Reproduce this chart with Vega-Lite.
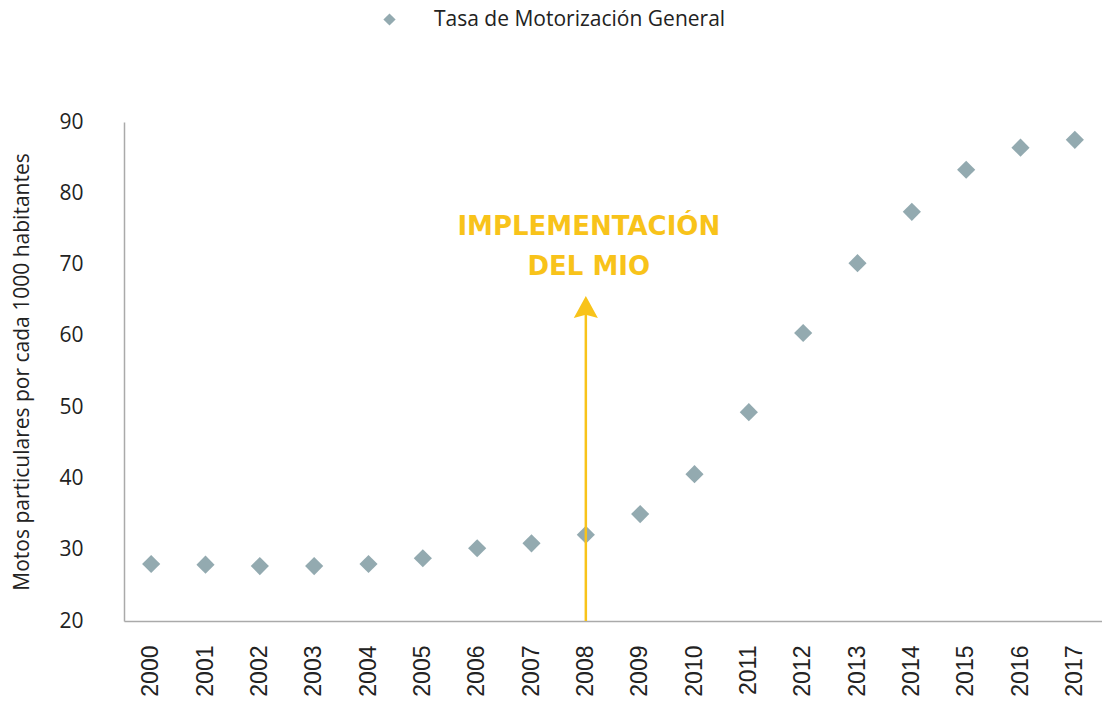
{
  "$schema": "https://vega.github.io/schema/vega-lite/v6.json",
  "autosize": {"type": "none"},
  "width": 978,
  "height": 499,
  "padding": {"left": 124, "top": 122, "right": 0, "bottom": 83},
  "background": "white",
  "config": {
    "view": {"stroke": null},
    "axis": {"grid": false}
  },
  "layer": [
    {
      "data": {"values": [
        {"year": "2000", "value": 28.0, "serie": "Tasa de Motorización General"},
        {"year": "2001", "value": 27.9, "serie": "Tasa de Motorización General"},
        {"year": "2002", "value": 27.7, "serie": "Tasa de Motorización General"},
        {"year": "2003", "value": 27.7, "serie": "Tasa de Motorización General"},
        {"year": "2004", "value": 28.0, "serie": "Tasa de Motorización General"},
        {"year": "2005", "value": 28.8, "serie": "Tasa de Motorización General"},
        {"year": "2006", "value": 30.2, "serie": "Tasa de Motorización General"},
        {"year": "2007", "value": 30.9, "serie": "Tasa de Motorización General"},
        {"year": "2008", "value": 32.1, "serie": "Tasa de Motorización General"},
        {"year": "2009", "value": 35.0, "serie": "Tasa de Motorización General"},
        {"year": "2010", "value": 40.6, "serie": "Tasa de Motorización General"},
        {"year": "2011", "value": 49.3, "serie": "Tasa de Motorización General"},
        {"year": "2012", "value": 60.4, "serie": "Tasa de Motorización General"},
        {"year": "2013", "value": 70.2, "serie": "Tasa de Motorización General"},
        {"year": "2014", "value": 77.4, "serie": "Tasa de Motorización General"},
        {"year": "2015", "value": 83.3, "serie": "Tasa de Motorización General"},
        {"year": "2016", "value": 86.4, "serie": "Tasa de Motorización General"},
        {"year": "2017", "value": 87.5, "serie": "Tasa de Motorización General"}
      ]},
      "mark": {"type": "point", "shape": "diamond", "filled": true, "size": 330, "opacity": 1},
      "encoding": {
        "x": {
          "field": "year", "type": "ordinal",
          "scale": {"type": "band", "paddingInner": 0, "paddingOuter": 0},
          "axis": {
            "title": null, "labelAngle": -90, "labelFont": "Liberation Sans", "labelFontSize": 23,
            "labelColor": "#222", "labelPadding": 24, "ticks": false, "domainColor": "#aaaaaa",
            "domainWidth": 1.5, "labelAlign": "right", "labelBaseline": "middle"
          }
        },
        "y": {
          "field": "value", "type": "quantitative",
          "scale": {"domain": [20, 90], "nice": false, "zero": false},
          "axis": {
            "title": "Motos particulares por cada 1000 habitantes", "titleFont": "Open Sans", "titleFontWeight": "normal",
            "titleFontSize": 21, "titleColor": "#222", "titlePadding": 26,
            "values": [20, 30, 40, 50, 60, 70, 80, 90], "labelFont": "Open Sans", "labelFontSize": 21,
            "labelColor": "#222", "labelPadding": 41, "ticks": false, "domainColor": "#aaaaaa", "domainWidth": 1.5
          }
        },
        "color": {
          "field": "serie", "type": "nominal",
          "scale": {"range": ["#93aab0"]},
          "legend": {
            "title": null, "orient": "none", "legendX": 255, "legendY": -113,
            "symbolType": "diamond", "symbolSize": 150, "symbolOpacity": 1, "labelLimit": 600,
            "labelFont": "Open Sans", "labelFontSize": 21, "labelColor": "#222", "labelOffset": 34
          }
        }
      }
    },
    {
      "data": {"values": [{"year": "2008", "y1": 20, "y2": 63.5}]},
      "mark": {"type": "rule", "color": "#f8c31a", "strokeWidth": 2.5},
      "encoding": {
        "x": {"field": "year", "type": "ordinal"},
        "y": {"field": "y1", "type": "quantitative"},
        "y2": {"field": "y2"}
      }
    },
    {
      "data": {"values": [{"year": "2008", "y": 64.05}]},
      "mark": {"type": "point", "shape": "M0,-1L1.1,1L0,0.7L-1.1,1Z", "filled": true, "color": "#f8c31a", "size": 480, "opacity": 1},
      "encoding": {
        "x": {"field": "year", "type": "ordinal"},
        "y": {"field": "y", "type": "quantitative"}
      }
    },
    {
      "data": {"values": [
        {"year": "2008", "y": 75.3, "label": "IMPLEMENTACIÓN"},
        {"year": "2008", "y": 69.7, "label": "DEL MIO"}
      ]},
      "mark": {"type": "text", "font": "DejaVu Sans", "fontWeight": "bold", "fontSize": 26, "color": "#f8c31a", "align": "center", "baseline": "middle", "dx": 3},
      "encoding": {
        "x": {"field": "year", "type": "ordinal"},
        "y": {"field": "y", "type": "quantitative"},
        "text": {"field": "label"}
      }
    }
  ]
}
